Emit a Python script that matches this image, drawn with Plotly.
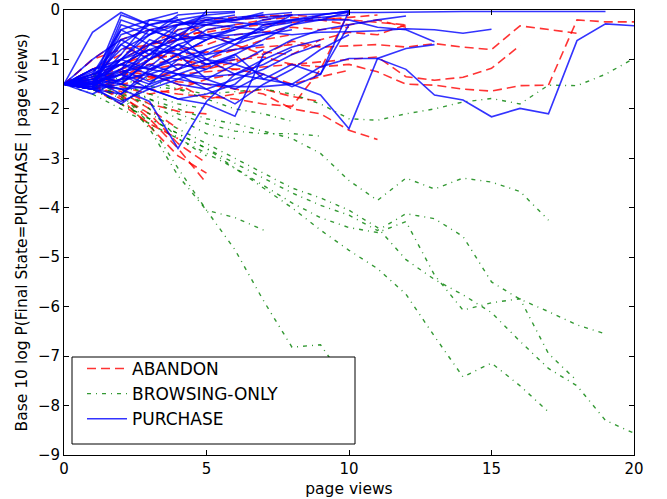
import plotly.graph_objects as go

# ---- data: y values per line, x = 0, 1, 2, ... (page views) ----
abandon = [
    [-1.5,-1.3,-1.2,-1.0,-0.9,-0.85,-0.8,-0.75,-0.7,-0.75,-0.72,-0.7,-0.75,-0.68,-0.75,-0.8,-0.32,-0.4,-0.47],
    [-1.5,-1.4,-1.3,-1.2,-1.1,-1.15,-1.0,-0.95,-1.1,-1.05,-1.0,-0.95,-1.35,-1.42,-1.36,-1.18,-0.72],
    [-1.5,-1.45,-1.4,-1.35,-1.3,-1.25,-1.2,-1.15,-1.1,-1.15,-1.1,-1.25,-1.5,-1.52,-1.6,-1.64,-1.53,-1.52,-0.2,-0.24,-0.24],
    [-1.5,-1.4,-1.3,-1.35,-1.45,-1.5,-1.6,-1.7,-2.0,-2.1,-2.43,-2.62],
    [-1.5,-1.55,-1.7,-2.2,-2.8,-3.5],
    [-1.5,-1.5,-1.8,-2.35,-2.95,-3.3],
    [-1.5,-1.55,-1.75,-2.1,-2.7,-3.1],
    [-1.5,-1.6,-1.9,-2.3,-2.6],
    [-1.5,-1.45,-1.65,-2.0,-2.4],
    [-1.5,-1.0,-0.6,-0.4,-0.3,-0.2,-0.15,-0.12,-0.1,-0.15,-0.2,-0.25,-0.3],
    [-1.5,-1.2,-0.9,-0.7,-0.5,-0.45,-0.35,-0.3,-0.25,-0.2,-0.15,-0.1],
    [-1.5,-1.4,-1.5,-1.6,-1.7,-1.75,-1.8,-1.9,-1.95,-1.2,-0.03],
    [-1.5,-1.3,-1.1,-0.8,-0.6,-0.5,-0.7,-0.9,-0.63,-0.74],
    [-1.5,-1.35,-1.25,-1.1,-1.0,-1.1,-1.2,-1.3,-1.5,-1.35,-1.22],
    [-1.5,-1.6,-1.5,-1.4,-1.2,-1.0,-0.8,-0.6,-0.5],
    [-1.5,-1.5,-1.2,-0.7,-0.4,-0.3],
    [-1.5,-1.45,-1.55,-1.7,-1.6,-1.4,-1.3],
    [-1.5,-1.0,-0.8,-0.7,-0.5,-0.3,-0.2,-0.15,-0.1],
    [-1.5,-1.5,-1.6,-1.9,-2.05,-2.1],
    [-1.5,-1.4,-1.25,-1.3,-1.5,-1.8,-1.7,-1.6,-1.75,-1.85],
    [-1.5,-1.2,-1.0,-0.7,-0.6,-0.4,-0.3,-0.2,-0.15,-0.2,-0.3,-0.2,-0.35],
    [-1.5,-1.6,-1.4,-1.0,-0.8,-0.7,-0.5,-0.45,-0.35,-0.4,-0.35],
    [-1.5,-1.4,-1.1,-0.9,-0.95,-1.2,-1.05,-0.85,-0.9,-0.6,-0.45,-0.5,-0.3],
]

browsing = [
    [-1.5,-1.45,-1.7,-2.3,-3.2,-4.05,-4.2,-4.45],
    [-1.5,-1.5,-1.75,-2.4,-3.35,-4.05,-4.85,-5.88,-6.82,-6.77,-7.6],
    [-1.5,-1.4,-1.5,-1.8,-2.0,-2.2,-2.3,-2.45,-2.6,-2.9,-3.45,-3.85,-3.4,-3.62,-3.4,-3.48,-3.67,-4.25],
    [-1.5,-1.6,-1.9,-2.2,-2.5,-2.8,-3.1,-3.4,-3.7,-3.95,-4.15,-4.46,-4.12,-4.22,-4.58,-5.5,-5.85,-6.1,-6.37,-6.55],
    [-1.5,-1.5,-1.8,-2.1,-2.4,-2.7,-3.0,-3.3,-3.6,-3.8,-4.05,-4.4,-5.05,-5.45,-5.76,-6.12,-6.7,-7.25,-7.6,-8.3,-8.56],
    [-1.5,-1.7,-2.0,-2.3,-2.6,-2.9,-3.2,-3.55,-3.9,-4.2,-4.4,-4.5,-4.28,-5.36,-6.07,-5.92,-5.84,-6.95,-7.5],
    [-1.5,-1.6,-1.9,-2.2,-2.5,-2.8,-3.2,-3.6,-4.0,-4.45,-4.86,-5.23,-5.75,-6.6,-7.42,-7.14,-7.6,-8.13],
    [-1.5,-1.3,-1.4,-1.55,-1.6,-1.7,-1.65,-1.6,-1.7,-1.9,-2.2,-2.23,-2.1,-2.0,-1.86,-1.79,-1.9,-1.52,-1.53,-1.3,-0.98],
    [-1.5,-1.4,-1.6,-1.8,-2.1,-2.3,-2.45,-2.5,-2.5,-2.55],
    [-1.5,-1.55,-1.7,-1.9,-2.2,-2.5,-2.6],
    [-1.5,-1.3,-1.5,-1.7,-1.9,-2.0],
    [-1.5,-1.5,-1.6,-2.0,-2.6,-2.95],
    [-1.5,-1.35,-1.25,-1.4,-1.6,-1.8,-2.0,-2.1,-2.25],
]

purchase = [
    [-1.5,-0.45,-0.05,-0.3,-0.5,-0.2,-0.1],
    [-1.5,-1.6,-0.3,-0.5,-0.2,-0.1,-0.05],
    [-1.5,-1.55,-0.6,-0.9,-0.4,-0.3,-0.15,-0.1,-0.05],
    [-1.5,-1.5,-0.9,-0.2,-0.05],
    [-1.5,-1.4,-1.2,-0.6,-0.8,-0.4,-0.3],
    [-1.5,-1.5,-1.6,-1.85,-2.8,-1.85,-1.3,-1.0,-0.75,-0.6],
    [-1.5,-1.4,-1.5,-1.6,-1.8,-1.9,-2.15,-0.9,-0.6,-0.4,-0.3],
    [-1.5,-1.5,-1.4,-1.3,-1.4,-1.5,-1.55,-1.55,-1.5,-1.15,-0.98,-0.98,-1.2,-1.72,-1.82,-2.16,-1.99,-2.1,-0.62,-0.28,-0.32],
    [-1.5,-1.3,-1.1,-1.2,-1.3,-1.35,-1.3,-1.4,-1.5,-1.72,-2.4,-0.98,-0.78,-0.7],
    [-1.5,-1.2,-1.0,-0.8,-0.6,-0.55,-0.5,-0.45,-0.5,-0.45,-0.44,-0.42,-0.38,-0.4,-0.47,-0.39],
    [-1.5,-1.0,-0.6,-0.4,-0.3,-0.25,-0.2,-0.15,-0.1,-0.08,-0.05,-0.05,-0.04,-0.04,-0.03,-0.03,-0.03,-0.03,-0.03,-0.03],
    [-1.5,-1.35,-0.8,-0.5,-0.3,-0.2,-0.25,-0.3,-0.22,-0.2,-0.2,-0.35,-0.4,-0.64],
    [-1.5,-1.6,-1.3,-1.0,-0.6,-0.02],
    [-1.5,-1.45,-1.0,-0.5,-0.1,-0.05,-0.03],
    [-1.5,-1.5,-1.2,-0.9,-0.8,-1.0,-1.1,-1.3,-1.55,-1.3,-0.02],
    [-1.5,-1.6,-1.7,-1.2,-1.0,-0.9,-0.8,-0.7],
    [-1.5,-1.55,-1.9,-1.5,-1.3,-1.1,-0.95],
    [-1.5,-1.2,-1.1,-1.3,-1.5,-1.6,-1.4,-1.2,-0.9,-0.7],
    [-1.5,-1.5,-1.3,-1.6,-1.8,-1.7,-1.5,-1.0],
    [-1.5,-1.25,-0.7,-0.3,-0.2,-0.5,-0.6,-0.4],
    [-1.5,-1.6,-1.5,-1.0,-0.7,-0.5,-0.4,-0.2,-0.1],
    [-1.5,-1.45,-1.3,-1.5,-1.0,-0.8],
    [-1.5,-1.7,-1.4,-1.1,-1.3,-1.6,-1.9,-1.5,-1.2,-0.8,-0.5],
    [-1.5,-1.5,-0.5,-0.3,-0.15],
    [-1.5,-1.55,-1.0,-0.7,-0.9,-0.6],
    [-1.5,-1.4,-1.7,-1.3,-1.1,-1.2],
    [-1.5,-1.3,-1.0,-1.2,-0.9,-1.1,-1.0],
    [-1.5,-1.6,-1.85,-1.6,-1.4,-1.2,-0.9,-0.6,-0.3,-0.1,-0.02],
    [-1.5,-1.4,-1.1,-0.8,-0.9,-1.4,-1.6,-1.3],
    [-1.5,-1.6,-0.2,-0.4,-0.6,-0.3,-0.2,-0.1],
    [-1.5,-1.55,-0.4,-0.7,-0.5,-0.6,-0.4],
    [-1.5,-1.5,-0.1,-0.3],
    [-1.5,-1.6,-1.0,-0.4,-0.6,-0.5,-0.7,-0.3,-0.2,-0.15,-0.1],
    [-1.5,-1.5,-0.7,-1.0,-0.7,-0.9,-0.6,-0.5,-0.4],
    [-1.5,-1.45,-1.1,-0.8,-1.2,-1.0,-0.7,-0.5,-0.3,-0.2,-0.03],
    [-1.5,-1.35,-1.45,-1.25,-0.9,-0.6,-0.35,-0.4,-0.1],
    [-1.5,-1.5,-1.3,-0.9,-0.5,-1.0,-1.3,-1.1,-0.8],
    [-1.5,-1.2,-1.5,-1.0,-0.3,-0.1],
    [-1.5,-1.55,-1.2,-1.45,-1.2,-0.8,-0.6,-0.35,-0.25],
    [-1.5,-1.6,-1.4,-0.7,-0.3,-0.15,-0.2,-0.05],
    [-1.5,-1.5,-1.25,-1.15,-0.7,-1.1,-0.9,-1.4,-1.1,-1.3,-0.3,-0.2,-0.12],
    [-1.5,-1.3,-0.4,-0.2,-0.25,-0.3,-0.35,-0.25,-0.2,-0.1,-0.02],
    [-1.5,-1.45,-1.6,-1.55,-1.3,-1.4,-1.1,-0.8],
]

x_ticks = [0, 5, 10, 15, 20]
y_ticks = [0, -1, -2, -3, -4, -5, -6, -7, -8, -9]

groups = [
    ("ABANDON", abandon, "rgba(255,0,0,0.8)", "9px,5px", 1.6),
    ("BROWSING-ONLY", browsing, "rgba(0,128,0,0.8)", "4px,5px,1px,5px", 1.4),
    ("PURCHASE", purchase, "rgba(0,0,255,0.8)", "solid", 1.6),
]

fig = go.Figure()
for name, lines, color, dash, w in groups:
    for i, ys in enumerate(lines):
        fig.add_trace(go.Scatter(
            x=list(range(len(ys))), y=ys, mode="lines", name=name,
            legendgroup=name, showlegend=(i == 0),
            line=dict(color=color, dash=dash, width=w),
        ))

font = "DejaVu Sans, Bitstream Vera Sans, sans-serif"
axis_common = dict(showgrid=False, zeroline=False, showline=True, linecolor="black",
                   linewidth=1, mirror="ticks", ticks="inside", ticklen=5,
                   tickcolor="black", automargin=False,
                   tickfont=dict(size=15, color="black", family=font))

# legend frame drawn as a shape (plot area: x 64..634, y 10..455 px)
fig.add_shape(type="rect", xref="paper", yref="paper",
              x0=(72 - 64) / 570, x1=(355 - 64) / 570,
              y0=(455 - 444) / 445, y1=(455 - 357) / 445,
              line=dict(color="black", width=1), fillcolor="white", layer="above")

fig.update_layout(
    width=667, height=499,
    margin=dict(l=64, r=33, t=10, b=44),
    paper_bgcolor="white", plot_bgcolor="white",
    font=dict(family=font, color="black"),
    xaxis=dict(range=[0, 20], tickvals=x_ticks,
               title=dict(text="page views", font=dict(size=15.5), standoff=6), **axis_common),
    yaxis=dict(range=[-9, 0], tickvals=y_ticks,
               title=dict(text="Base 10 log P(Final State=PURCHASE | page views)", font=dict(size=15.5), standoff=6),
               **axis_common),
    legend=dict(x=(82 - 64) / 570, y=(455 - 437) / 445, xanchor="left", yanchor="bottom",
                bgcolor="rgba(0,0,0,0)", borderwidth=0,
                font=dict(size=17, color="black"), tracegroupgap=0, itemwidth=40),
)

fig.write_html("out.html", config={"displayModeBar": False},
               post_script="document.body.style.margin='0';document.body.style.overflow='hidden';")
